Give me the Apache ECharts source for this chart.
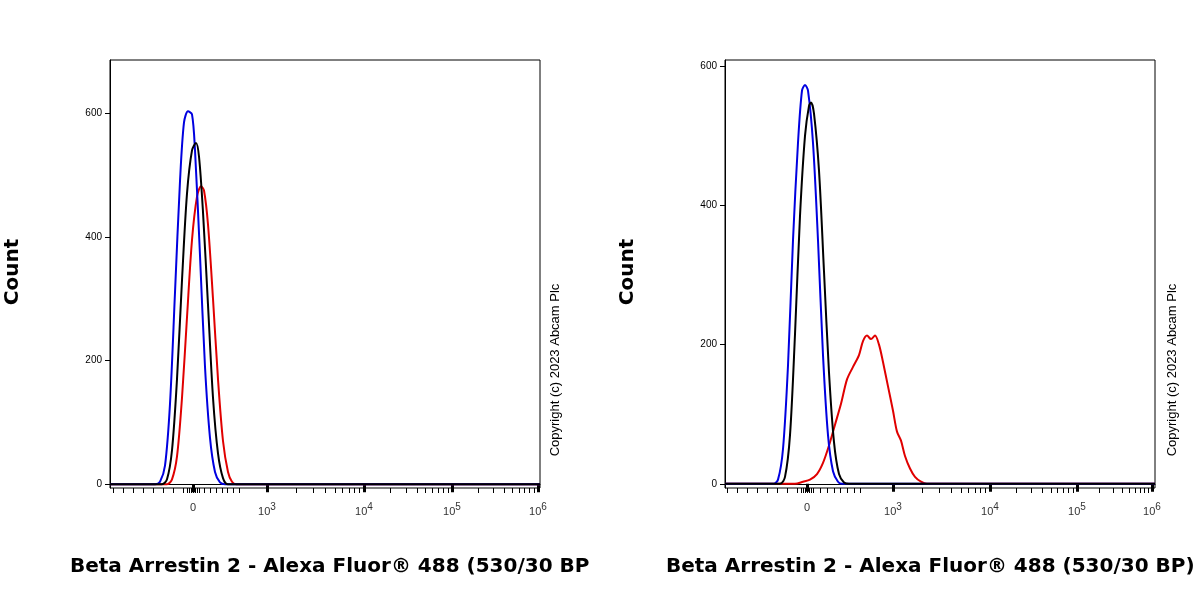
<!DOCTYPE html><html><head><meta charset="utf-8">
<script src="https://cdn.jsdelivr.net/npm/echarts@6/dist/echarts.min.js"></script>
<style>html,body{margin:0;background:#fff}#c{width:1200px;height:600px}</style></head><body><div id="c"></div>
<script>
// x values are in display units of the biexponential axis (0 = left edge of plot)
var leftDecades = [[83,'0'],[157,'10{s|3}'],[254,'10{s|4}'],[342,'10{s|5}'],[428,'10{s|6}']];
var rightDecades = [[82,'0'],[168,'10{s|3}'],[265,'10{s|4}'],[352,'10{s|5}'],[427,'10{s|6}']];
var yTicks = [0,200,400,600];
var leftBlue  = [[0,0],[45,0],[50,4],[55,30],[60,130],[65,310],[70,490],[74,585],[78,603],[82,598],[85,540],[90,370],[95,190],[100,75],[105,20],[110,3],[115,0],[430,0]];
var leftBlack = [[0,0],[52,0],[57,8],[62,55],[67,170],[72,330],[77,470],[82,540],[86,552],[89,530],[93,440],[98,290],[103,140],[108,50],[113,10],[118,0],[430,0]];
var leftRed   = [[0,0],[57,0],[62,8],[67,45],[72,140],[77,270],[82,395],[87,465],[91,482],[94,475],[98,420],[103,300],[108,170],[113,70],[118,20],[122,4],[126,0],[430,0]];
var rightBlue  = [[0,0],[48,0],[53,6],[58,50],[63,170],[68,350],[73,490],[77,565],[80,573],[83,565],[88,490],[93,350],[98,185],[103,70],[108,18],[113,3],[117,0],[430,0]];
var rightBlack = [[0,0],[55,0],[60,10],[65,70],[70,215],[75,385],[80,500],[84,543],[86,548],[89,532],[94,450],[99,305],[104,160],[109,60],[114,14],[119,2],[124,0],[430,0]];
var rightRed   = [[0,0],[70,0],[78,3],[85,6],[92,14],[98,30],[104,55],[110,85],[116,115],[122,150],[128,168],[134,185],[138,205],[142,213],[146,208],[150,213],[154,200],[158,175],[163,140],[168,105],[172,75],[176,62],[180,40],[185,22],[190,10],[196,3],[202,0],[430,0]];

function minorTicks(dec){
  var t=[], z=dec[0][0], d3=dec[1][0];
  var step=(d3-z)/9;
  for(var i=1;i<9;i++){t.push(z+i*step*0.7);}
  for(var i=1;i<=8;i++){t.push(z-i*10);}
  for(var k=1;k<dec.length-1;k++){
    var a=dec[k][0], D=dec[k+1][0]-a;
    for(var m=2;m<10;m++) t.push(a+Math.log10(m)*D);
  }
  for(var j=-3;j<=3;j++) t.push(z+j*2);
  return t.filter(function(v){return v>=0&&v<=430;});
}
function xAxes(g,dec){
  var common={type:'value',gridIndex:g,min:0,max:430,position:'bottom',splitLine:{show:false},
    axisLine:{lineStyle:{color:'#000',width:1}}};
  return [
    Object.assign({},common,{axisTick:{customValues:dec.map(function(d){return d[0];}),length:8,lineStyle:{width:3,color:'#000'}},
      axisLabel:{customValues:dec.map(function(d){return d[0];}),margin:14,color:'#333',fontSize:11,fontFamily:'Arial',
        formatter:function(v){for(var i=0;i<dec.length;i++) if(Math.abs(dec[i][0]-v)<0.5) return dec[i][1]; return '';},
        rich:{s:{fontSize:10,verticalAlign:'bottom',padding:[0,0,10,0],color:'#333'}}}}),
    Object.assign({},common,{axisLine:{show:false},axisTick:{customValues:minorTicks(dec),length:5,lineStyle:{color:'#000'}},axisLabel:{show:false}})
  ];
}
function yAxis(g,max){
  return {type:'value',gridIndex:g,min:-6,max:max,splitLine:{show:false},
    axisLine:{show:true,lineStyle:{color:'#000'}},
    axisTick:{customValues:yTicks,length:5,lineStyle:{color:'#000'}},
    axisLabel:{customValues:yTicks,color:'#000',fontSize:10,fontFamily:'Arial',margin:8}};
}
function line(xi,yi,data,color){return {type:'line',xAxisIndex:xi,yAxisIndex:yi,data:data,smooth:0.3,symbol:'none',lineStyle:{color:color,width:2}};}
var chart=echarts.init(document.getElementById('c'));
chart.setOption({
  animation:false,
  grid:[{left:110,right:660,top:60,bottom:112,show:true,borderColor:'#000',borderWidth:1},
        {left:725,right:45,top:60,bottom:112,show:true,borderColor:'#000',borderWidth:1}],
  xAxis:xAxes(0,leftDecades).concat(xAxes(1,rightDecades)),
  yAxis:[yAxis(0,686),yAxis(1,609)],
  series:[line(0,0,leftRed,'#e00000'),line(0,0,leftBlue,'#0000e0'),line(0,0,leftBlack,'#000'),
          line(2,1,rightRed,'#e00000'),line(2,1,rightBlue,'#0000e0'),line(2,1,rightBlack,'#000')],
  graphic:[
    {type:'text',x:13,y:272,rotation:Math.PI/2,style:{text:'Count',font:'bold 20px "DejaVu Sans"',fill:'#000',textAlign:'center',textVerticalAlign:'middle'}},
    {type:'text',x:628,y:272,rotation:Math.PI/2,style:{text:'Count',font:'bold 20px "DejaVu Sans"',fill:'#000',textAlign:'center',textVerticalAlign:'middle'}},
    {type:'text',x:70,y:567,style:{text:'Beta Arrestin 2 - Alexa Fluor® 488 (530/30 BP',font:'bold 20px "DejaVu Sans"',fill:'#000',textAlign:'left',textVerticalAlign:'middle'}},
    {type:'text',x:666,y:567,style:{text:'Beta Arrestin 2 - Alexa Fluor® 488 (530/30 BP)',font:'bold 20px "DejaVu Sans"',fill:'#000',textAlign:'left',textVerticalAlign:'middle'}},
    {type:'text',x:555,y:370,rotation:Math.PI/2,style:{text:'Copyright (c) 2023 Abcam Plc',font:'13px Arial',fill:'#000',textAlign:'center',textVerticalAlign:'middle'}},
    {type:'text',x:1172,y:370,rotation:Math.PI/2,style:{text:'Copyright (c) 2023 Abcam Plc',font:'13px Arial',fill:'#000',textAlign:'center',textVerticalAlign:'middle'}}
  ]
});
</script></body></html>
